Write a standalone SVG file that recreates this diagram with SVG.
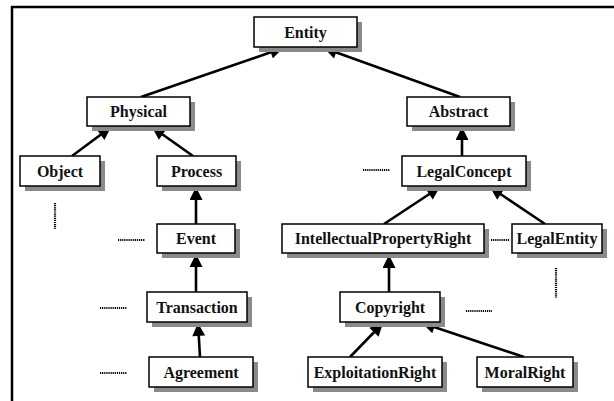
<svg xmlns="http://www.w3.org/2000/svg" width="614" height="401" viewBox="0 0 614 401">
<defs>
<marker id="ah" viewBox="0 0 10 10" refX="10" refY="5" markerWidth="5.5" markerHeight="5" orient="auto" markerUnits="strokeWidth">
<path d="M0,0 L10,5 L0,10 z" fill="#000"/>
</marker>
</defs>
<style>
.sh{fill:#8a8a8a}
.bx{fill:#fff;stroke:#000;stroke-width:1.5}
.t{font-family:"Liberation Serif","Times New Roman",serif;font-weight:bold;font-size:16px;fill:#111;text-anchor:middle;dominant-baseline:central}
.c{stroke:#000;stroke-width:2.6;fill:none;marker-end:url(#ah)}
.d{stroke:#000;stroke-width:2.2;stroke-dasharray:1.2 0.9;fill:none}
</style>
<rect width="614" height="401" fill="#fff"/>
<path d="M12,401 V7 H614" stroke="#000" stroke-width="2.5" fill="none"/>
<g id="connectors">
<path class="c" d="M141,97 L283,48"/>
<path class="c" d="M460,97 L324,48"/>
<path class="c" d="M72,156 L111,127"/>
<path class="c" d="M193,156 L152,127"/>
<path class="c" d="M462,156 V127"/>
<path class="c" d="M196,224 V187"/>
<path class="c" d="M196,292 V254"/>
<path class="c" d="M200,357 L198,323"/>
<path class="c" d="M384,224 L440,187"/>
<path class="c" d="M545,224 L490,187"/>
<path class="c" d="M389,292 V255"/>
<path class="c" d="M350,357 L383,323"/>
<path class="c" d="M524,357 L422,323"/>
</g>
<g id="dots">
<path class="d" d="M55,203 V229"/>
<path class="d" d="M118,240 H145"/>
<path class="d" d="M100,308 H127"/>
<path class="d" d="M100,373 H127"/>
<path class="d" d="M363,170 H390"/>
<path class="d" d="M491,240 H510"/>
<path class="d" d="M556,268 V298"/>
<path class="d" d="M466,311 H492"/>
</g>
<g id="Entity"><rect class="sh" x="259" y="22" width="103" height="30"/><rect class="bx" x="254" y="17" width="103" height="30"/><text class="t" x="305.5" y="32">Entity</text></g>
<g id="Physical"><rect class="sh" x="92" y="102" width="103" height="29"/><rect class="bx" x="87" y="97" width="103" height="29"/><text class="t" x="138.5" y="111.5">Physical</text></g>
<g id="Abstract"><rect class="sh" x="412" y="102" width="103" height="29"/><rect class="bx" x="407" y="97" width="103" height="29"/><text class="t" x="458.5" y="111.5">Abstract</text></g>
<g id="Object"><rect class="sh" x="25" y="161" width="80" height="30"/><rect class="bx" x="20" y="156" width="80" height="30"/><text class="t" x="60" y="171">Object</text></g>
<g id="Process"><rect class="sh" x="162" y="161" width="79" height="30"/><rect class="bx" x="157" y="156" width="79" height="30"/><text class="t" x="196.5" y="171">Process</text></g>
<g id="LegalConcept"><rect class="sh" x="407" y="161" width="124" height="30"/><rect class="bx" x="402" y="156" width="124" height="30"/><text class="t" x="464" y="171">LegalConcept</text></g>
<g id="Event"><rect class="sh" x="162" y="229" width="78" height="29"/><rect class="bx" x="157" y="224" width="78" height="29"/><text class="t" x="196" y="238.5">Event</text></g>
<g id="IntellectualPropertyRight"><rect class="sh" x="287" y="229" width="202" height="29"/><rect class="bx" x="282" y="224" width="202" height="29"/><text class="t" x="383" y="238.5">IntellectualPropertyRight</text></g>
<g id="LegalEntity"><rect class="sh" x="517" y="229" width="90" height="29"/><rect class="bx" x="512" y="224" width="90" height="29"/><text class="t" x="557" y="238.5">LegalEntity</text></g>
<g id="Transaction"><rect class="sh" x="152" y="297" width="100" height="30"/><rect class="bx" x="147" y="292" width="100" height="30"/><text class="t" x="197" y="307">Transaction</text></g>
<g id="Copyright"><rect class="sh" x="345" y="297" width="100" height="30"/><rect class="bx" x="340" y="292" width="100" height="30"/><text class="t" x="390" y="307">Copyright</text></g>
<g id="Agreement"><rect class="sh" x="154" y="362" width="104" height="30"/><rect class="bx" x="149" y="357" width="104" height="30"/><text class="t" x="201" y="372">Agreement</text></g>
<g id="ExploitationRight"><rect class="sh" x="313" y="362" width="134" height="30"/><rect class="bx" x="308" y="357" width="134" height="30"/><text class="t" x="375" y="372">ExploitationRight</text></g>
<g id="MoralRight"><rect class="sh" x="482" y="362" width="96" height="30"/><rect class="bx" x="477" y="357" width="96" height="30"/><text class="t" x="525" y="372">MoralRight</text></g>
</svg>
